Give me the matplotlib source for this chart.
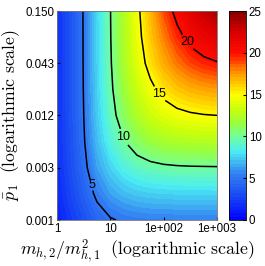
import numpy as np
import matplotlib
matplotlib.use('Agg')
import matplotlib.pyplot as plt
from matplotlib.colors import LinearSegmentedColormap

plt.rcParams['mathtext.fontset'] = 'cm'
plt.rcParams['font.family'] = ['Liberation Sans', 'DejaVu Sans']

# grid (x: mass ratio, y: p_bar)
mass_ratio = [1, 1.778, 3.162, 5.623, 10, 17.78, 31.62, 56.23, 100, 177.8, 316.2, 562.3, 1000]
p_bar = [0.001, 0.00187, 0.0035, 0.00655, 0.01225, 0.0229, 0.0428, 0.0802, 0.15]

# estimated values, one row per p_bar, one column per mass ratio
gain = [
    [1.16, 2.19, 3.18, 4.24, 4.86, 5.19, 5.35, 5.43, 5.47, 5.48, 5.49, 5.50, 5.50],
    [1.48, 2.71, 3.99, 5.34, 6.32, 6.92, 7.26, 7.43, 7.52, 7.56, 7.58, 7.59, 7.60],
    [1.66, 3.02, 4.53, 6.29, 7.55, 8.53, 9.15, 9.50, 9.70, 9.80, 9.85, 9.87, 9.89],
    [1.74, 3.18, 4.84, 6.94, 8.62, 9.90, 10.92, 11.59, 12.00, 12.23, 12.36, 12.42, 12.46],
    [1.78, 3.25, 4.99, 7.29, 9.28, 10.95, 12.25, 13.30, 14.02, 14.48, 14.75, 14.91, 14.99],
    [1.79, 3.28, 5.05, 7.45, 9.63, 11.60, 13.26, 14.55, 15.61, 16.37, 16.87, 17.18, 17.36],
    [1.80, 3.29, 5.08, 7.54, 9.83, 12.00, 13.97, 15.65, 17.00, 18.12, 18.95, 19.50, 19.86],
    [1.80, 3.30, 5.09, 7.57, 9.92, 12.19, 14.34, 16.29, 17.96, 19.42, 20.58, 21.42, 21.99],
    [1.80, 3.30, 5.10, 7.59, 9.96, 12.29, 14.55, 16.68, 18.80, 20.60, 21.90, 23.03, 23.89],
]

contour_levels = [5, 10, 15, 20]
label_pos = [(4.0, 0.00226), (18.8, 0.00733), (77.6, 0.020), (251, 0.068)]

x_ticks = [1, 10, 100, 1000]
x_ticklabels = ['1', '10', '1e+002', '1e+003']
y_ticks = [0.001, 0.0035, 0.01225, 0.04285, 0.15]
y_ticklabels = ['0.001', '0.003', '0.012', '0.043', '0.150']
cbar_ticks = [0, 5, 10, 15, 20, 25]

# jet-like map as in the colorbar
cmap = LinearSegmentedColormap.from_list('gainmap', [
    (0.00, (0.00, 0.00, 1.00)),
    (0.12, (0.10, 0.30, 0.95)),
    (0.22, (0.20, 0.50, 0.95)),
    (0.33, (0.30, 0.93, 0.95)),
    (0.40, (0.45, 1.00, 0.60)),
    (0.47, (0.62, 1.00, 0.20)),
    (0.53, (0.78, 1.00, 0.05)),
    (0.60, (1.00, 1.00, 0.00)),
    (0.70, (1.00, 0.60, 0.00)),
    (0.80, (1.00, 0.05, 0.00)),
    (0.90, (0.85, 0.00, 0.00)),
    (1.00, (0.50, 0.00, 0.00)),
])

fig = plt.figure(figsize=(2.65, 2.66), dpi=100)
ax = fig.add_axes([57/265, 46/266, 160/265, 209/266])
cax = fig.add_axes([229/265, 46/266, 17/265, 209/266])

lx = np.log10(mass_ratio)
ly = np.log10(p_bar)
cf = ax.contourf(lx, ly, gain, levels=np.linspace(0, 25, 64), cmap=cmap, antialiased=False)
cs = ax.contour(lx, ly, gain, levels=contour_levels, colors='k', linewidths=1.1)
labels = ax.clabel(cs, fmt='%d', fontsize=9,
                   manual=[(np.log10(a), np.log10(b)) for a, b in label_pos],
                   inline=True, inline_spacing=2)
for t in labels:
    t.set_rotation(0)

ax.set_xlim(0, 3)
ax.set_ylim(-3, np.log10(0.15))
ax.set_xticks(np.log10(x_ticks))
ax.set_xticklabels(x_ticklabels)
ax.set_yticks(np.log10(y_ticks))
ax.set_yticklabels(y_ticklabels)
ax.tick_params(direction='in', length=2, labelsize=8.3, pad=2)
for s in ax.spines.values():
    s.set_color('0.45')
    s.set_linewidth(0.6)

ax.set_xlabel(r'$m_{h,2}/m_{h,1}^2\ \ \mathrm{(logarithmic\ scale)}$', fontsize=12.8, labelpad=2)
ax.set_ylabel(r'$\bar{p}_1\ \ \mathrm{(logarithmic\ scale)}$', fontsize=12.8, labelpad=2)

cb = fig.colorbar(cf, cax=cax, ticks=cbar_ticks)
cb.ax.tick_params(direction='in', length=2, labelsize=8.3, pad=2)
cb.outline.set_linewidth(0.6)

fig.savefig('out.png', dpi=100)
